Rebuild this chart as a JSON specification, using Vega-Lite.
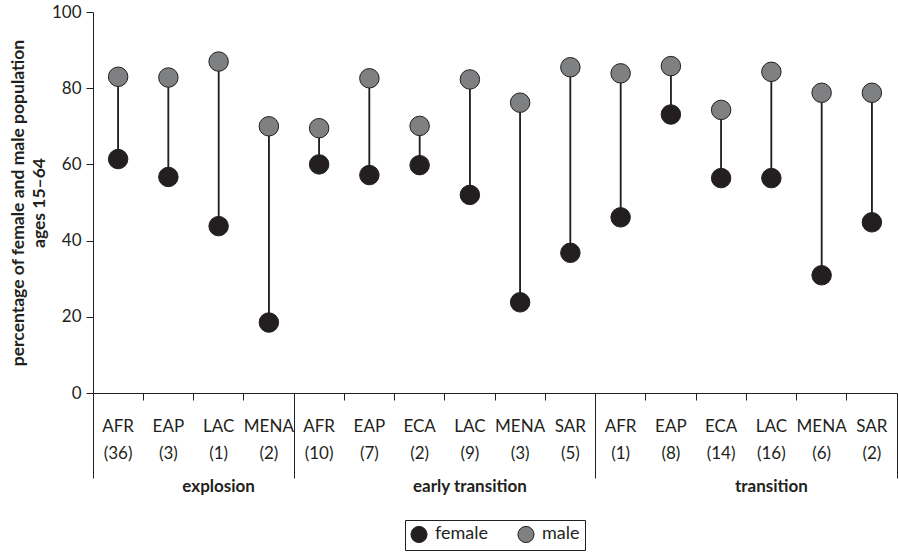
{
  "$schema": "https://vega.github.io/schema/vega-lite/v6.json",
  "width": 804,
  "height": 381,
  "autosize": {"type": "none"},
  "padding": {"left": 93, "top": 12, "right": 2, "bottom": 161},
  "background": "white",
  "config": {
    "view": {"stroke": null},
    "font": "Lato",
    "axis": {"domainColor": "#231f20", "tickColor": "#231f20", "labelColor": "#231f20", "titleColor": "#231f20", "grid": false, "labelFont": "Lato", "titleFont": "Lato"}
  },
  "data": {
    "values": [
      {"key": "AFR|(36)|explosion", "region": "AFR", "n": "(36)", "group": "explosion", "female": 61.4, "male": 83.0},
      {"key": "EAP|(3)|explosion", "region": "EAP", "n": "(3)", "group": "explosion", "female": 56.7, "male": 82.8},
      {"key": "LAC|(1)|explosion", "region": "LAC", "n": "(1)", "group": "explosion", "female": 43.8, "male": 87.0},
      {"key": "MENA|(2)|explosion", "region": "MENA", "n": "(2)", "group": "explosion", "female": 18.5, "male": 70.0},
      {"key": "AFR|(10)|early transition", "region": "AFR", "n": "(10)", "group": "early transition", "female": 60.0, "male": 69.5},
      {"key": "EAP|(7)|early transition", "region": "EAP", "n": "(7)", "group": "early transition", "female": 57.2, "male": 82.6},
      {"key": "ECA|(2)|early transition", "region": "ECA", "n": "(2)", "group": "early transition", "female": 59.8, "male": 70.1},
      {"key": "LAC|(9)|early transition", "region": "LAC", "n": "(9)", "group": "early transition", "female": 52.0, "male": 82.3},
      {"key": "MENA|(3)|early transition", "region": "MENA", "n": "(3)", "group": "early transition", "female": 23.8, "male": 76.2},
      {"key": "SAR|(5)|early transition", "region": "SAR", "n": "(5)", "group": "early transition", "female": 36.8, "male": 85.5},
      {"key": "AFR|(1)|transition", "region": "AFR", "n": "(1)", "group": "transition", "female": 46.1, "male": 83.9},
      {"key": "EAP|(8)|transition", "region": "EAP", "n": "(8)", "group": "transition", "female": 73.1, "male": 85.8},
      {"key": "ECA|(14)|transition", "region": "ECA", "n": "(14)", "group": "transition", "female": 56.4, "male": 74.3},
      {"key": "LAC|(16)|transition", "region": "LAC", "n": "(16)", "group": "transition", "female": 56.4, "male": 84.3},
      {"key": "MENA|(6)|transition", "region": "MENA", "n": "(6)", "group": "transition", "female": 30.9, "male": 78.8},
      {"key": "SAR|(2)|transition", "region": "SAR", "n": "(2)", "group": "transition", "female": 44.8, "male": 78.8}
    ]
  },
  "resolve": {"axis": {"x": "independent", "y": "shared"}},
  "layer": [
    {
      "mark": {"type": "rule", "stroke": "#231f20", "strokeWidth": 1.5},
      "encoding": {
        "x": {
          "field": "key", "type": "nominal", "sort": null,
          "scale": {"type": "band", "paddingInner": 0, "paddingOuter": 0},
          "axis": {
            "orient": "bottom", "title": null, "bandPosition": 0, "labels": false, "domain": true, "domainWidth": 1,
            "ticks": true, "tickWidth": 1,
            "tickSize": {"condition": {"test": "datum.value == 'AFR|(36)|explosion'", "value": 85}, "value": 7}
          }
        },
        "y": {
          "field": "female", "type": "quantitative",
          "scale": {"domain": [0, 100], "nice": false, "zero": true},
          "axis": {
            "values": [0, 20, 40, 60, 80, 100], "tickSize": 7, "domainWidth": 1, "labelFontSize": 17, "labelPadding": 5,
            "title": ["percentage of female and male population", "ages 15–64"],
            "titleFontSize": 17.5, "titleFontWeight": "bold", "titlePadding": 3, "titleLineHeight": 21
          }
        },
        "y2": {"field": "male"}
      }
    },
    {
      "mark": {"type": "rule", "stroke": "#231f20", "strokeWidth": 1.5},
      "encoding": {
        "x": {
          "field": "key", "type": "nominal", "sort": null,
          "axis": {
            "orient": "bottom", "title": null, "bandPosition": 0, "domain": false, "ticks": false, "labelPadding": 85,
            "values": ["LAC|(1)|explosion", "LAC|(9)|early transition", "LAC|(16)|transition"],
            "labelExpr": "split(datum.value, '|')[2]", "labelFontSize": 17, "labelFontWeight": "bold",
            "labelBaseline": "top", "labelAngle": 0, "labelAlign": "center", "labelOverlap": false
          }
        },
        "y": {"field": "female", "type": "quantitative"},
        "y2": {"field": "male"}
      }
    },
    {
      "mark": {"type": "point", "filled": true, "size": 380, "stroke": "#231f20", "strokeWidth": 1, "opacity": 1},
      "encoding": {
        "x": {
          "field": "key", "type": "nominal", "sort": null,
          "axis": {
            "orient": "bottom", "title": null, "domain": false, "ticks": false, "labelPadding": 25,
            "labelExpr": "[split(datum.value, '|')[0], split(datum.value, '|')[1]]",
            "labelFontSize": 17, "labelLineHeight": 27, "labelBaseline": "top", "labelAngle": 0, "labelOverlap": false
          }
        },
        "y": {"field": "female", "type": "quantitative"},
        "color": {
          "datum": "female", "type": "nominal",
          "scale": {"domain": ["female", "male"], "range": ["#231f20", "#7f8081"]},
          "legend": {
            "title": null, "orient": "none", "legendX": 312, "legendY": 508, "direction": "horizontal",
            "strokeColor": "#231f20", "padding": 5, "symbolType": "circle", "symbolSize": 260,
            "symbolStrokeColor": "#231f20", "symbolStrokeWidth": 1, "labelFontSize": 18, "labelColor": "#231f20",
            "columnPadding": 26, "labelOffset": 7, "fillColor": "white"
          }
        }
      }
    },
    {
      "mark": {"type": "point", "filled": true, "size": 380, "stroke": "#231f20", "strokeWidth": 1, "opacity": 1},
      "encoding": {
        "x": {
          "field": "key", "type": "nominal", "sort": null,
          "axis": {
            "orient": "bottom", "title": null, "bandPosition": 1, "domain": false, "labels": false,
            "ticks": true, "tickSize": 85, "tickWidth": 1,
            "values": ["MENA|(2)|explosion", "SAR|(5)|early transition", "SAR|(2)|transition"]
          }
        },
        "y": {"field": "male", "type": "quantitative"},
        "color": {"datum": "male", "type": "nominal"}
      }
    }
  ]
}
